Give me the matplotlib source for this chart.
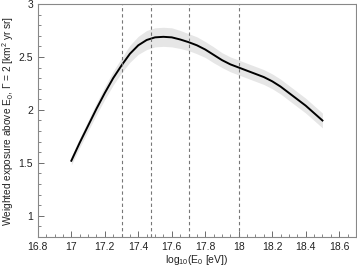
import numpy as np
import matplotlib
matplotlib.use('Agg')
import matplotlib.pyplot as plt
from matplotlib.ticker import MultipleLocator

# exposure curve
log_e = [17.0, 17.05, 17.1, 17.15, 17.2, 17.25, 17.3, 17.35, 17.4, 17.45, 17.5,
         17.55, 17.6, 17.65, 17.7, 17.75, 17.8, 17.85, 17.9, 17.95, 18.0,
         18.05, 18.1, 18.15, 18.2, 18.25, 18.3, 18.35, 18.4, 18.45, 18.5]
exposure = [1.52, 1.69, 1.85, 2.01, 2.16, 2.30, 2.42, 2.53, 2.61, 2.66, 2.685,
            2.69, 2.685, 2.665, 2.64, 2.61, 2.57, 2.52, 2.47, 2.43, 2.40,
            2.37, 2.34, 2.31, 2.27, 2.22, 2.16, 2.10, 2.04, 1.97, 1.90]
band = [0.04, 0.045, 0.05, 0.055, 0.06, 0.065, 0.07, 0.08, 0.085, 0.09, 0.09,
        0.09, 0.09, 0.085, 0.08, 0.08, 0.075, 0.075, 0.07, 0.07, 0.07,
        0.07, 0.07, 0.07, 0.07, 0.07, 0.07, 0.07, 0.07, 0.07, 0.07]
vlines = [17.3, 17.477, 17.7, 18.0]

plt.rcParams['font.family'] = ['Liberation Sans', 'DejaVu Sans']
plt.rcParams['mathtext.fontset'] = 'custom'
plt.rcParams['mathtext.rm'] = 'Liberation Sans'
plt.rcParams['mathtext.it'] = 'Liberation Sans:italic'

fig = plt.figure(figsize=(3.57, 2.66), dpi=100)
ax = fig.add_axes([0.106, 0.109, 0.891, 0.876])

x = np.array(log_e)
y = np.array(exposure)
b = np.array(band)
ax.fill_between(x, y - b, y + b, color='#e6e6e6', lw=0)
ax.plot(x, y, color='black', lw=1.4)
for v in vlines:
    ax.axvline(v, color='#777777', ls=(0, (3, 2.5)), lw=0.8)

ax.set_xlim(16.8, 18.7)
ax.set_ylim(0.8, 3)
ax.xaxis.set_minor_locator(MultipleLocator(0.05))
ax.yaxis.set_minor_locator(MultipleLocator(0.1))
ax.set_xticks([16.8, 17, 17.2, 17.4, 17.6, 17.8, 18, 18.2, 18.4, 18.6])
ax.set_xticklabels(['16.8', '17', '17.2', '17.4', '17.6', '17.8', '18', '18.2', '18.4', '18.6'])
ax.set_yticks([1, 1.5, 2, 2.5, 3])
ax.set_yticklabels(['1', '1.5', '2', '2.5', '3'])
ax.tick_params(which='both', direction='in', labelsize=7.5, color='#555555', labelcolor='#222222')
ax.tick_params(which='major', length=4, width=0.6)
ax.tick_params(which='minor', length=2, width=0.5)
for s in ax.spines.values():
    s.set_color('#888888')
    s.set_linewidth(0.8)

ax.set_xlabel(r'log$_{10}$(E$_0$ [eV])', fontsize=7.5, labelpad=1, color='#222222')
ax.set_ylabel(r'Weighted exposure above E$_0$, $\Gamma$ = 2 [km$^2$ yr sr]', fontsize=7.3,
              labelpad=2, color='#222222')

fig.savefig('out.png', dpi=100)
